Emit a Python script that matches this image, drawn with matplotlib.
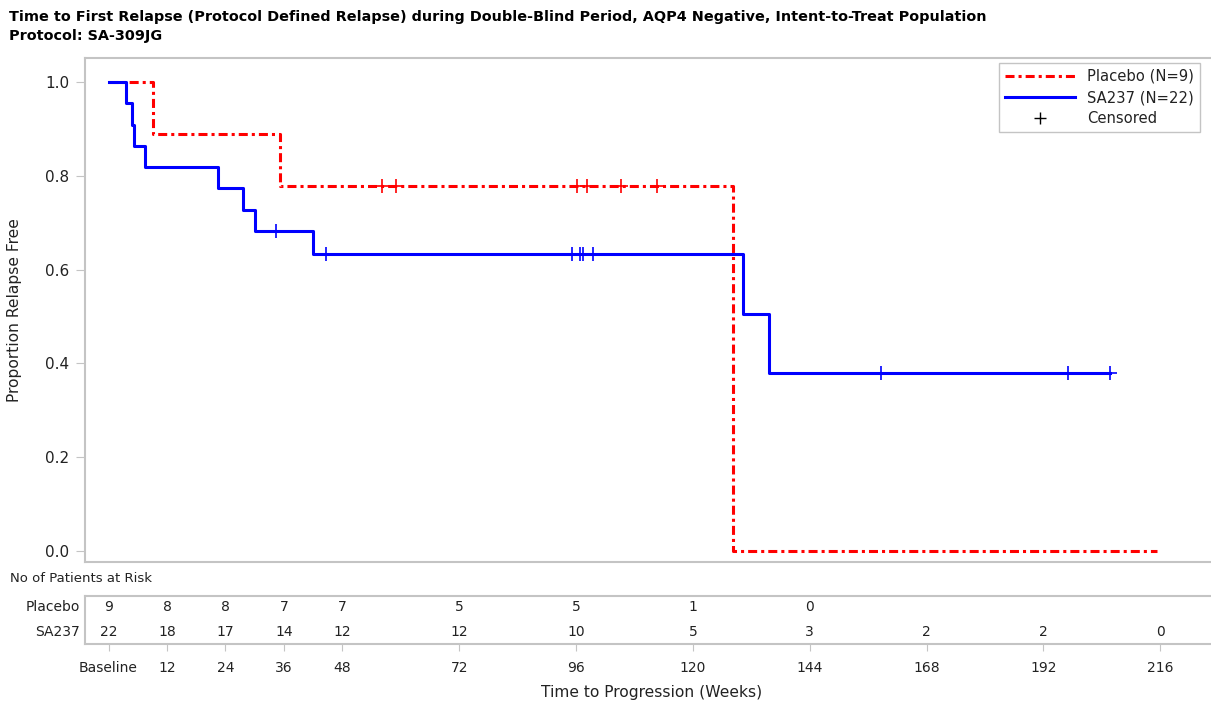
import matplotlib
matplotlib.use("Agg")
import matplotlib.pyplot as plt
from matplotlib.lines import Line2D

# survival steps (weeks, proportion)
placebo_t = [0, 9.2, 35.2, 128.3, 215.3]
placebo_s = [1.0, 0.889, 0.778, 0.0, 0.0]
placebo_cens_t = [56.1, 59.0, 96.3, 98.2, 105.2, 112.6]
placebo_cens_s = [0.778, 0.778, 0.778, 0.778, 0.778, 0.778]

sa237_t = [0, 3.6, 4.8, 5.3, 7.4, 22.5, 27.7, 30.1, 41.9, 130.2, 135.7, 205.6]
sa237_s = [1.0, 0.955, 0.909, 0.864, 0.818, 0.773, 0.727, 0.682, 0.633, 0.506, 0.380, 0.380]
sa237_cens_t = [34.3, 44.7, 95.2, 96.8, 97.5, 99.4, 158.6, 197.0, 205.6]
sa237_cens_s = [0.682, 0.633, 0.633, 0.633, 0.633, 0.633, 0.380, 0.380, 0.380]

# patients at risk
risk_weeks = [0, 12, 24, 36, 48, 72, 96, 120, 144, 168, 192, 216]
risk_labels = ["Baseline", "12", "24", "36", "48", "72", "96", "120", "144", "168", "192", "216"]
placebo_risk = [9, 8, 8, 7, 7, 5, 5, 1, 0]
sa237_risk = [22, 18, 17, 14, 12, 12, 10, 5, 3, 2, 2, 0]

plt.rcParams['font.family'] = ['DejaVu Sans']
plt.rcParams['lines.scale_dashes'] = False

W, H = 1211, 704
fig = plt.figure(figsize=(W / 100, H / 100), dpi=100)

def fx(px):
    return px / W

def fy(py):
    return 1 - py / H

frame_col = '#c4c4c4'
text_col = '#222222'
red = '#ff0000'
blue = '#0000ff'
dashdot = (0, (6.5, 2.9, 2.2, 2.9))
xmin, xmax = -4.83, 226.4

ax = fig.add_axes([fx(85), fy(562), fx(1211) - fx(85), fy(58) - fy(562)])
ax.step(placebo_t, placebo_s, where='post', color=red, lw=2.2, linestyle=dashdot)
ax.step(sa237_t, sa237_s, where='post', color=blue, lw=2.2)
ax.plot(placebo_cens_t, placebo_cens_s, '+', color=red, ms=10, mew=1.2)
ax.plot(sa237_cens_t, sa237_cens_s, '+', color=blue, ms=10, mew=1.2)
ax.set_xlim(xmin, xmax)
ax.set_ylim(-0.0235, 1.051)
ax.set_xticks([])
ax.set_yticks([0.0, 0.2, 0.4, 0.6, 0.8, 1.0])
ax.set_yticklabels(["0.0", "0.2", "0.4", "0.6", "0.8", "1.0"])
ax.tick_params(axis='y', length=6.5, color=frame_col, labelsize=11, labelcolor=text_col, pad=5)
for sp in ax.spines.values():
    sp.set_color(frame_col)
    sp.set_linewidth(1.5)
ax.spines['right'].set_visible(False)

handles = [
    Line2D([], [], color=red, lw=2.2, linestyle=dashdot),
    Line2D([], [], color=blue, lw=2.2),
    Line2D([], [], color='black', marker='+', linestyle='none', ms=8, mew=1.0),
]
leg = ax.legend(handles, ["Placebo (N=9)", "SA237 (N=22)", "Censored"],
                loc='upper right', bbox_to_anchor=(0.99, 0.99), borderaxespad=0,
                fontsize=10.6, handlelength=4.8, handletextpad=0.8, labelspacing=0.42,
                fancybox=False, framealpha=1, edgecolor=frame_col, borderpad=0.4)
for t in leg.get_texts():
    t.set_color(text_col)

fig.text(fx(15), fy(310), "Proportion Relapse Free", rotation=90, ha='center', va='center',
         fontsize=11.2, color=text_col)

fig.text(fx(9), fy(17), "Time to First Relapse (Protocol Defined Relapse) during Double-Blind Period, "
         "AQP4 Negative, Intent-to-Treat Population", ha='left', va='center',
         fontsize=10.4, fontweight='bold', color='black')
fig.text(fx(9), fy(36), "Protocol: SA-309JG", ha='left', va='center',
         fontsize=10.4, fontweight='bold', color='black')

# at-risk table
fig.text(fx(10), fy(578), "No of Patients at Risk", ha='left', va='center', fontsize=9.5, color=text_col)
rax = fig.add_axes([fx(85), fy(644), fx(1211) - fx(85), fy(596) - fy(644)])
rax.set_xlim(xmin, xmax)
rax.set_ylim(0, 1)
rax.set_yticks([])
for wk, n in zip(risk_weeks, placebo_risk):
    rax.text(wk, 0.77, str(n), ha='center', va='center', fontsize=10, color=text_col)
for wk, n in zip(risk_weeks, sa237_risk):
    rax.text(wk, 0.25, str(n), ha='center', va='center', fontsize=10, color=text_col)
rax.text(-0.0045, 0.77, "Placebo", transform=rax.transAxes, ha='right', va='center', fontsize=10, color=text_col)
rax.text(-0.0045, 0.25, "SA237", transform=rax.transAxes, ha='right', va='center', fontsize=10, color=text_col)
rax.set_xticks(risk_weeks)
rax.set_xticklabels(risk_labels)
rax.tick_params(axis='x', length=5, color=frame_col, labelsize=10, labelcolor=text_col, pad=7)
for sp in rax.spines.values():
    sp.set_color(frame_col)
    sp.set_linewidth(1.5)
rax.spines['right'].set_visible(False)

fig.text(fx(652), fy(692), "Time to Progression (Weeks)", ha='center', va='center',
         fontsize=11.2, color=text_col)

fig.savefig("out.png", dpi=100)
